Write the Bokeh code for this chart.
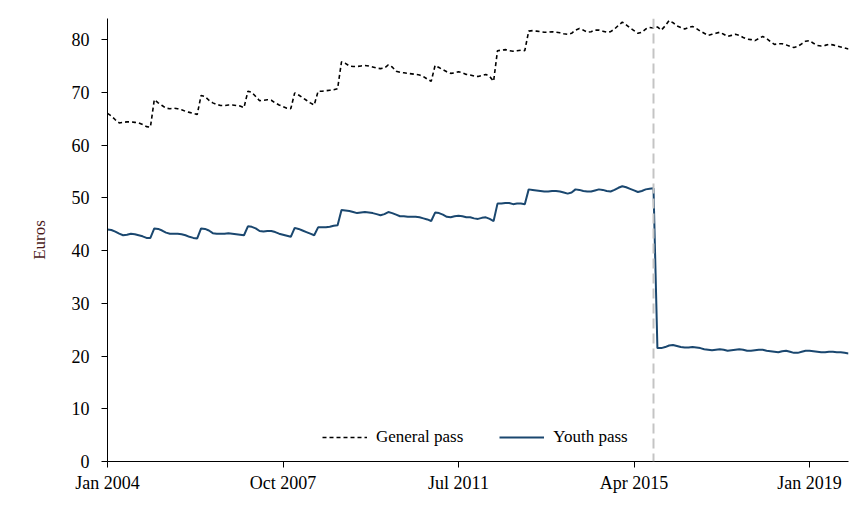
from bokeh.plotting import figure
from bokeh.models import Range1d, FixedTicker, Span, Legend, LegendItem, ColumnDataSource
from bokeh.embed import file_html
from bokeh.resources import INLINE

# Monthly real price (Euros), Jan 2004 .. Nov 2019
general_pass = [
    # 2004
    66.0, 65.5, 64.8, 64.2, 64.3, 64.4, 64.4, 64.3, 64.2, 63.9, 63.5, 63.4,
    # 2005
    68.6, 68.0, 67.5, 67.0, 66.9, 67.0, 66.9, 66.7, 66.4, 66.2, 66.0, 65.8,
    # 2006
    69.4, 69.2, 68.5, 68.0, 67.7, 67.5, 67.5, 67.6, 67.6, 67.5, 67.4, 67.1,
    # 2007
    70.2, 70.0, 69.2, 68.4, 68.5, 68.6, 68.5, 68.0, 67.6, 67.3, 67.0, 66.9,
    # 2008
    69.9, 69.5, 69.0, 68.5, 68.0, 67.6, 70.2, 70.2, 70.3, 70.4, 70.5, 70.7,
    # 2009
    75.8, 75.5, 75.0, 74.9, 74.9, 75.0, 75.1, 75.0, 74.8, 74.6, 74.5, 74.6,
    # 2010
    75.2, 74.8, 74.0, 73.8, 73.7, 73.6, 73.5, 73.4, 73.3, 73.0, 72.5, 72.1,
    # 2011
    75.1, 74.7, 74.3, 73.9, 73.6, 73.7, 73.9, 73.7, 73.4, 73.3, 73.1, 73.0,
    # 2012
    73.2, 73.4, 73.0, 72.1, 77.9, 78.0, 78.1, 77.9, 77.8, 77.9, 78.0, 77.9,
    # 2013
    81.6, 81.7, 81.6, 81.5, 81.4, 81.4, 81.5, 81.4, 81.3, 81.1, 81.0, 81.2,
    # 2014
    81.8, 82.1, 81.8, 81.4, 81.5, 81.8, 81.8, 81.6, 81.4, 81.5, 82.0, 82.7,
    # 2015
    83.3, 82.8, 82.2, 81.7, 81.2, 81.4, 82.0, 82.3, 82.2, 82.4, 81.8, 82.6,
    # 2016
    83.6, 83.2, 82.6, 82.3, 82.0, 82.3, 82.5, 82.1, 81.6, 81.2, 80.8, 81.0,
    # 2017
    81.2, 81.4, 81.0, 80.6, 80.8, 81.0, 80.8, 80.4, 80.1, 80.0, 79.8, 80.2,
    # 2018
    80.6, 80.2, 79.6, 79.1, 79.2, 79.2, 79.0, 78.7, 78.5, 78.7, 79.2, 79.7,
    # 2019
    79.8, 79.3, 78.9, 78.8, 78.9, 79.1, 79.0, 78.8, 78.6, 78.4, 78.2,
]

youth_pass = [
    # 2004
    44.0, 43.9, 43.6, 43.2, 42.9, 43.0, 43.2, 43.1, 42.9, 42.7, 42.4, 42.4,
    # 2005
    44.2, 44.1, 43.8, 43.4, 43.2, 43.2, 43.2, 43.1, 42.9, 42.6, 42.4, 42.3,
    # 2006
    44.2, 44.1, 43.8, 43.3, 43.2, 43.2, 43.2, 43.3, 43.2, 43.1, 43.0, 42.9,
    # 2007
    44.6, 44.5, 44.2, 43.7, 43.6, 43.7, 43.7, 43.5, 43.2, 43.0, 42.8, 42.6,
    # 2008
    44.3, 44.1, 43.8, 43.5, 43.2, 42.9, 44.4, 44.4, 44.4, 44.5, 44.7, 44.8,
    # 2009
    47.7, 47.6, 47.5, 47.3, 47.1, 47.2, 47.3, 47.2, 47.1, 46.9, 46.7, 46.9,
    # 2010
    47.3, 47.1, 46.8, 46.5, 46.5, 46.4, 46.4, 46.4, 46.3, 46.1, 45.9, 45.6,
    # 2011
    47.2, 47.1, 46.8, 46.4, 46.3, 46.5, 46.6, 46.5, 46.3, 46.3, 46.1, 46.0,
    # 2012
    46.2, 46.3, 46.0, 45.6, 48.9, 48.9, 49.0, 49.0, 48.8, 48.9, 48.9, 48.8,
    # 2013
    51.6, 51.5, 51.4, 51.3, 51.2, 51.2, 51.3, 51.3, 51.2, 51.0, 50.8, 51.0,
    # 2014
    51.6, 51.5, 51.3, 51.2, 51.2, 51.4, 51.6, 51.5, 51.3, 51.2, 51.5, 51.9,
    # 2015
    52.2, 52.0, 51.7, 51.4, 51.1, 51.3, 51.6, 51.7, 51.8, 21.5, 21.5, 21.7,
    # 2016
    22.0, 22.1, 21.9, 21.7, 21.6, 21.6, 21.7, 21.6, 21.5, 21.3, 21.2, 21.1,
    # 2017
    21.2, 21.3, 21.2, 21.0, 21.1, 21.2, 21.3, 21.2, 21.0, 21.0, 21.1, 21.2,
    # 2018
    21.2, 21.0, 20.9, 20.8, 20.7, 20.9, 21.0, 20.8, 20.6, 20.6, 20.8, 21.0,
    # 2019
    21.0, 20.9, 20.8, 20.7, 20.7, 20.8, 20.8, 20.7, 20.7, 20.6, 20.5,
]

# months since Jan 2004
tick_months = [0, 45, 90, 135, 180]
tick_labels = ["Jan 2004", "Oct 2007", "Jul 2011", "Apr 2015", "Jan 2019"]
y_ticks = [0, 10, 20, 30, 40, 50, 60, 70, 80]
reform_month = 140  # Sep 2015

months = list(range(len(general_pass)))
src = ColumnDataSource(dict(m=months, g=general_pass, y=youth_pass))

FONT = "Liberation Serif"

p = figure(width=858, height=512, output_backend="svg", toolbar_location=None,
           x_range=Range1d(0, months[-1]), y_range=Range1d(0, 84),
           min_border_left=107, min_border_right=10, min_border_top=18,
           min_border_bottom=51, background_fill_color="white",
           border_fill_color="white", outline_line_color=None)

p.xgrid.visible = False
p.ygrid.visible = False

vline = Span(location=reform_month, dimension="height", line_color="#c4c4c4",
             line_width=2, line_dash="10 5")
p.add_layout(vline)

rg = p.line("m", "g", source=src, line_color="black", line_width=1.6, line_dash="4 3")
ry = p.line("m", "y", source=src, line_color="#1a476f", line_width=2)

legend = Legend(items=[LegendItem(label="General pass", renderers=[rg]),
                       LegendItem(label="Youth pass", renderers=[ry])],
                orientation="horizontal", location=(215, 14),
                background_fill_alpha=0, border_line_color=None,
                label_text_font=FONT, label_text_font_size="17px",
                label_text_color="black", glyph_width=45, label_standoff=9,
                spacing=36, padding=0, margin=0)
p.add_layout(legend)

for ax in (p.xaxis[0], p.yaxis[0]):
    ax.axis_line_color = "black"
    ax.axis_line_width = 1
    ax.major_tick_line_color = "black"
    ax.major_tick_out = 6
    ax.major_tick_in = 0
    ax.minor_tick_line_color = None
    ax.major_label_text_font = FONT
    ax.major_label_text_font_size = "18px"
    ax.major_label_text_color = "black"

p.xaxis.ticker = FixedTicker(ticks=tick_months)
p.xaxis.major_label_overrides = {m: l for m, l in zip(tick_months, tick_labels)}
p.xaxis.major_label_standoff = 5

p.yaxis.ticker = FixedTicker(ticks=y_ticks)
p.yaxis.major_label_standoff = 12
p.yaxis.axis_label = "Euros"
p.yaxis.axis_label_text_font = FONT
p.yaxis.axis_label_text_font_size = "17px"
p.yaxis.axis_label_text_font_style = "normal"
p.yaxis.axis_label_text_color = "#4a1a1a"
p.yaxis.axis_label_standoff = 20

open("out.html", "w").write(file_html(p, INLINE))
